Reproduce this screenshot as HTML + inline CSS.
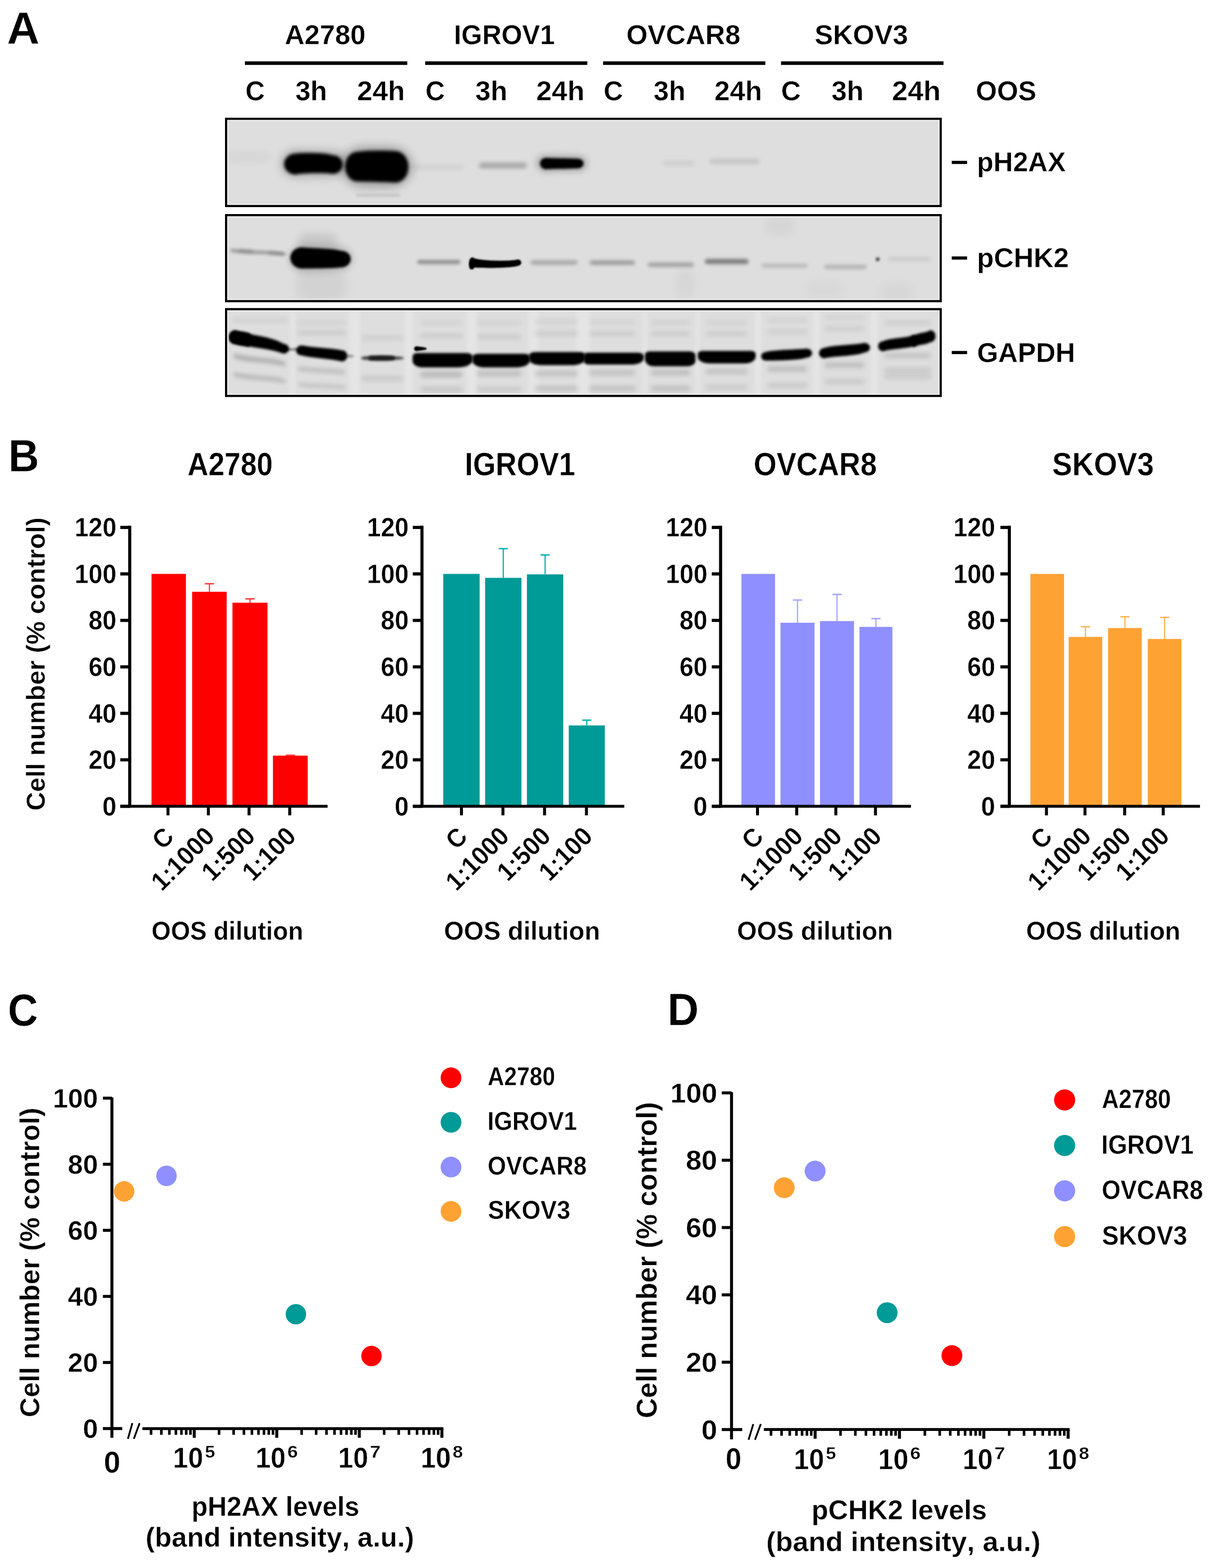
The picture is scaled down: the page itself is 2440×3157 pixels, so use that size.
<!DOCTYPE html>
<html><head><meta charset="utf-8"><title>Figure</title>
<style>
html,body{margin:0;padding:0;background:#fff;}
svg{display:block;}
text{font-family:"Liberation Sans",Arial,sans-serif;font-weight:bold;font-kerning:none;stroke:#fff;stroke-width:0.5px;stroke-linejoin:round;}
</style></head><body>
<svg width="2440" height="3157" viewBox="0 0 2440 3157">
<rect width="2440" height="3157" fill="#fff"/>
<defs>
<filter id="b16" x="-100%" y="-300%" width="300%" height="700%"><feGaussianBlur stdDeviation="1.6"/></filter>
<filter id="b18" x="-100%" y="-300%" width="300%" height="700%"><feGaussianBlur stdDeviation="1.8"/></filter>
<filter id="b20" x="-100%" y="-300%" width="300%" height="700%"><feGaussianBlur stdDeviation="2"/></filter>
<filter id="b22" x="-100%" y="-300%" width="300%" height="700%"><feGaussianBlur stdDeviation="2.2"/></filter>
<filter id="b24" x="-100%" y="-300%" width="300%" height="700%"><feGaussianBlur stdDeviation="2.4"/></filter>
<filter id="b25" x="-100%" y="-300%" width="300%" height="700%"><feGaussianBlur stdDeviation="2.5"/></filter>
<filter id="b26" x="-100%" y="-300%" width="300%" height="700%"><feGaussianBlur stdDeviation="2.6"/></filter>
<filter id="b28" x="-100%" y="-300%" width="300%" height="700%"><feGaussianBlur stdDeviation="2.8"/></filter>
<filter id="b30" x="-100%" y="-300%" width="300%" height="700%"><feGaussianBlur stdDeviation="3"/></filter>
<filter id="b32" x="-100%" y="-300%" width="300%" height="700%"><feGaussianBlur stdDeviation="3.2"/></filter>
<filter id="b35" x="-100%" y="-300%" width="300%" height="700%"><feGaussianBlur stdDeviation="3.5"/></filter>
<filter id="b40" x="-100%" y="-300%" width="300%" height="700%"><feGaussianBlur stdDeviation="4"/></filter>
<filter id="b50" x="-100%" y="-300%" width="300%" height="700%"><feGaussianBlur stdDeviation="5"/></filter>
<filter id="b60" x="-100%" y="-300%" width="300%" height="700%"><feGaussianBlur stdDeviation="6"/></filter>
<filter id="b70" x="-100%" y="-300%" width="300%" height="700%"><feGaussianBlur stdDeviation="7"/></filter>
<filter id="b80" x="-100%" y="-300%" width="300%" height="700%"><feGaussianBlur stdDeviation="8"/></filter>
<filter id="b90" x="-100%" y="-300%" width="300%" height="700%"><feGaussianBlur stdDeviation="9"/></filter>
<filter id="b100" x="-100%" y="-300%" width="300%" height="700%"><feGaussianBlur stdDeviation="10"/></filter>
<clipPath id="clipb1"><rect x="453" y="237" width="1443" height="180"/></clipPath>
<clipPath id="clipb2"><rect x="453" y="431" width="1443" height="177.5"/></clipPath>
<clipPath id="clipb3"><rect x="453" y="620.3" width="1443" height="179.0"/></clipPath>
</defs>
<text x="14.09" y="87.95" font-size="90.71" textLength="65.55" lengthAdjust="spacingAndGlyphs">A</text>
<text x="16.8" y="948.55" font-size="90.71" textLength="62.05" lengthAdjust="spacingAndGlyphs">B</text>
<text x="15.8" y="2064.67" font-size="90.71" textLength="60.75" lengthAdjust="spacingAndGlyphs">C</text>
<text x="1343.48" y="2063.75" font-size="90.71" textLength="63.35" lengthAdjust="spacingAndGlyphs">D</text>
<text x="573.17" y="88.91" font-size="56.21" textLength="162.95" lengthAdjust="spacingAndGlyphs">A2780</text>
<text x="913.85" y="88.91" font-size="56.21" textLength="203.3" lengthAdjust="spacingAndGlyphs">IGROV1</text>
<text x="1260.99" y="88.91" font-size="56.21" textLength="229.55" lengthAdjust="spacingAndGlyphs">OVCAR8</text>
<text x="1639.95" y="88.91" font-size="56.21" textLength="188.31" lengthAdjust="spacingAndGlyphs">SKOV3</text>
<rect x="493" y="123.5" width="327" height="7.2" fill="#000"/>
<rect x="856" y="123.5" width="326.4" height="7.2" fill="#000"/>
<rect x="1214.2" y="123.5" width="326.6" height="7.2" fill="#000"/>
<rect x="1572.4" y="123.5" width="327.1" height="7.2" fill="#000"/>
<text x="494.12" y="201.65" font-size="56.21" textLength="39.21" lengthAdjust="spacingAndGlyphs">C</text>
<text x="594.69" y="201.65" font-size="56.21" textLength="63.85" lengthAdjust="spacingAndGlyphs">3h</text>
<text x="718.81" y="201.65" font-size="56.21" textLength="96.52" lengthAdjust="spacingAndGlyphs">24h</text>
<text x="856.52" y="201.65" font-size="56.21" textLength="39.21" lengthAdjust="spacingAndGlyphs">C</text>
<text x="956.98" y="201.65" font-size="56.21" textLength="64.39" lengthAdjust="spacingAndGlyphs">3h</text>
<text x="1079.49" y="201.65" font-size="56.21" textLength="97.26" lengthAdjust="spacingAndGlyphs">24h</text>
<text x="1215.34" y="201.65" font-size="56.21" textLength="38.99" lengthAdjust="spacingAndGlyphs">C</text>
<text x="1315.78" y="201.65" font-size="56.21" textLength="64.39" lengthAdjust="spacingAndGlyphs">3h</text>
<text x="1438.32" y="201.65" font-size="56.21" textLength="95.99" lengthAdjust="spacingAndGlyphs">24h</text>
<text x="1572.49" y="201.65" font-size="56.21" textLength="39.76" lengthAdjust="spacingAndGlyphs">C</text>
<text x="1673.98" y="201.65" font-size="56.21" textLength="64.71" lengthAdjust="spacingAndGlyphs">3h</text>
<text x="1795.78" y="201.65" font-size="56.21" textLength="98" lengthAdjust="spacingAndGlyphs">24h</text>
<text x="1964.5" y="202.19" font-size="56.21" textLength="121.89" lengthAdjust="spacingAndGlyphs">OOS</text>
<text x="1966.76" y="344.65" font-size="54.71" textLength="178.77" lengthAdjust="spacingAndGlyphs">pH2AX</text>
<rect x="1916" y="323.8" width="31" height="6.4" fill="#000"/>
<text x="1966.69" y="538.25" font-size="54.71" textLength="185.29" lengthAdjust="spacingAndGlyphs">pCHK2</text>
<rect x="1916" y="516.3" width="31" height="6.4" fill="#000"/>
<text x="1966.9" y="728.95" font-size="54.71" textLength="197.74" lengthAdjust="spacingAndGlyphs">GAPDH</text>
<rect x="1916" y="706.6" width="31" height="6.4" fill="#000"/>
<rect x="453" y="237" width="1443" height="180" fill="#dedede"/>
<rect x="453" y="431" width="1443" height="177.5" fill="#dedede"/>
<rect x="453" y="620.3" width="1443" height="179" fill="#dedede"/>
<g clip-path="url(#clipb1)">
<path d="M467.1,305 C478.94,305 521.06,305 532.9,305 A12.1,11 0 0 1 532.9,327 C521.06,327 478.94,327 467.1,327 A12.1,11 0 0 1 467.1,305 Z" fill="#000" opacity="0.035" filter="url(#b80)"/>
<path d="M595.25,302 C608.96,303 657.69,303 671.4,304 A28.6,26 0 0 1 671.4,356 C657.69,356.5 608.96,356.5 595.25,357 A30.25,27.5 0 0 1 595.25,302 Z" fill="#000" opacity="0.22" filter="url(#b90)"/>
<path d="M595.38,308.9 C608.7,306.98 656.05,306.98 669.37,312.4 A20.74,18.85 0 0 1 669.37,350.1 C656.05,347.85 608.7,347.85 595.38,351.6 A23.49,21.35 0 0 1 595.38,308.9 Z" fill="#000" opacity="1.0" filter="url(#b30)"/>
<path d="M732,296 C741.72,296 776.28,296 786,296 A44,40 0 0 1 786,376 C776.28,376 741.72,376 732,376 A44,40 0 0 1 732,296 Z" fill="#000" opacity="0.3" filter="url(#b100)"/>
<path d="M719,305.76 C732.86,302.68 782.14,302.68 796,304.26 A26.24,31.74 0 0 1 796,367.74 C782.14,366.16 732.86,366.16 719,365.24 A24.24,29.74 0 0 1 719,305.76 Z" fill="#000" opacity="1.0" filter="url(#b32)"/>
<path d="M718.75,390.8 C733.96,390.8 788.04,390.8 803.25,390.8 A2.75,2.5 0 0 1 803.25,395.8 C788.04,395.8 733.96,395.8 718.75,395.8 A2.75,2.5 0 0 1 718.75,390.8 Z" fill="#000" opacity="0.12" filter="url(#b25)"/>
<path d="M834.95,332.2 C851.89,332.2 912.11,332.2 929.05,332.2 A4.95,4.5 0 0 1 929.05,341.2 C912.11,341.2 851.89,341.2 834.95,341.2 A4.95,4.5 0 0 1 834.95,332.2 Z" fill="#000" opacity="0.06" filter="url(#b40)"/>
<path d="M970.05,327.7 C985.33,327.7 1039.67,327.7 1054.95,327.7 A6.05,5.5 0 0 1 1054.95,338.7 C1039.67,338.7 985.33,338.7 970.05,338.7 A6.05,5.5 0 0 1 970.05,327.7 Z" fill="#000" opacity="0.26" filter="url(#b40)"/>
<path d="M1098.7,312 C1110.72,313 1153.48,313 1165.5,314 A16.5,15 0 0 1 1165.5,344 C1153.48,345 1110.72,345 1098.7,346 A18.7,17 0 0 1 1098.7,312 Z" fill="#000" opacity="0.25" filter="url(#b70)"/>
<path d="M1099.9,317.75 C1111.49,318.75 1152.71,318.75 1164.3,319.75 A10.45,9.5 0 0 1 1164.3,338.75 C1152.71,339.75 1111.49,339.75 1099.9,340.75 A12.65,11.5 0 0 1 1099.9,317.75 Z" fill="#000" opacity="1.0" filter="url(#b25)"/>
<path d="M1338.95,324.5 C1348.87,324.5 1384.13,324.5 1394.05,324.5 A4.95,4.5 0 0 1 1394.05,333.5 C1384.13,333.5 1348.87,333.5 1338.95,333.5 A4.95,4.5 0 0 1 1338.95,324.5 Z" fill="#000" opacity="0.08" filter="url(#b40)"/>
<path d="M1434.5,320 C1450.52,320 1507.48,320 1523.5,320 A5.5,5 0 0 1 1523.5,330 C1507.48,330 1450.52,330 1434.5,330 A5.5,5 0 0 1 1434.5,320 Z" fill="#000" opacity="0.12" filter="url(#b40)"/>
</g>
<g clip-path="url(#clipb2)">
<path d="M630,540 C636.3,540 658.7,540 665,540 A35,35 0 0 1 665,610 C658.7,610 636.3,610 630,610 A35,35 0 0 1 630,540 Z" fill="#000" opacity="0.05" filter="url(#b100)"/>
<path d="M619.25,470 C626.72,470 653.28,470 660.75,470 A19.25,17.5 0 0 1 660.75,505 C653.28,505 626.72,505 619.25,505 A19.25,17.5 0 0 1 619.25,470 Z" fill="#000" opacity="0.1" filter="url(#b80)"/>
<path d="M614.1,490 C626.38,492 670.02,492 682.3,494 A29.7,27 0 0 1 682.3,548 C670.02,550 626.38,550 614.1,552 A34.1,31 0 0 1 614.1,490 Z" fill="#000" opacity="0.12" filter="url(#b60)"/>
<path d="M468.12,500.5 C486.67,504.25 552.61,504.25 571.15,508 A3.85,3.5 0 0 1 571.15,515 C552.61,511.5 486.67,511.5 468.12,508 A4.12,3.75 0 0 1 468.12,500.5 Z" fill="#000" opacity="0.3" filter="url(#b32)"/>
<path d="M484.95,500 C488.57,501 501.43,501 505.05,502 A4.95,4.5 0 0 1 505.05,511 C501.43,510 488.57,510 484.95,509 A4.95,4.5 0 0 1 484.95,500 Z" fill="#000" opacity="0.12" filter="url(#b30)"/>
<path d="M544.95,505 C549.03,506 563.52,506 567.6,507 A4.4,4 0 0 1 567.6,515 C563.52,514.5 549.03,514.5 544.95,514 A4.95,4.5 0 0 1 544.95,505 Z" fill="#000" opacity="0.12" filter="url(#b30)"/>
<path d="M608.3,497.64 C622.32,499.67 672.18,499.67 686.2,504.64 A19.96,16.96 0 0 1 686.2,538.56 C672.18,540.69 622.32,540.69 608.3,540.96 A23.96,21.66 0 0 1 608.3,497.64 Z" fill="#000" opacity="1.0" filter="url(#b28)"/>
<path d="M844.4,523.4 C858.48,523.4 908.52,523.4 922.6,523.4 A4.4,4 0 0 1 922.6,531.4 C908.52,531.4 858.48,531.4 844.4,531.4 A4.4,4 0 0 1 844.4,523.4 Z" fill="#000" opacity="0.36" filter="url(#b30)"/>
<path d="M951.5,518.04 C960.58,526.27 1033.22,526.27 1042.3,522.24 A7.26,6.51 0 0 1 1042.3,535.26 C1033.22,540.09 960.58,540.09 951.5,538.26 A7.26,10.11 0 0 1 951.5,518.04 Z" fill="#000" opacity="1.0" filter="url(#b18)"/>
<path d="M947.91,526.74 C948.57,526.74 950.93,526.74 951.59,526.74 A3.67,7.76 0 0 1 951.59,542.26 C950.93,542.26 948.57,542.26 947.91,542.26 A3.67,7.76 0 0 1 947.91,526.74 Z" fill="#000" opacity="1.0" filter="url(#b18)"/>
<path d="M1072.95,524 C1088.27,524 1142.73,524 1158.05,524 A4.95,4.5 0 0 1 1158.05,533 C1142.73,533 1088.27,533 1072.95,533 A4.95,4.5 0 0 1 1072.95,524 Z" fill="#000" opacity="0.24" filter="url(#b35)"/>
<path d="M1191.95,524.3 C1206.55,524.3 1258.45,524.3 1273.05,524.3 A4.95,4.5 0 0 1 1273.05,533.3 C1258.45,533.3 1206.55,533.3 1191.95,533.3 A4.95,4.5 0 0 1 1191.95,524.3 Z" fill="#000" opacity="0.3" filter="url(#b35)"/>
<path d="M1308.95,528.5 C1323.91,528.5 1377.09,528.5 1392.05,528.5 A4.95,4.5 0 0 1 1392.05,537.5 C1377.09,537.5 1323.91,537.5 1308.95,537.5 A4.95,4.5 0 0 1 1308.95,528.5 Z" fill="#000" opacity="0.27" filter="url(#b35)"/>
<path d="M1424.5,521.6 C1438.36,521.6 1487.64,521.6 1501.5,521.6 A5.5,5 0 0 1 1501.5,531.6 C1487.64,531.6 1438.36,531.6 1424.5,531.6 A5.5,5 0 0 1 1424.5,521.6 Z" fill="#000" opacity="0.45" filter="url(#b35)"/>
<path d="M1537.4,531 C1552.56,531 1606.44,531 1621.6,531 A4.4,4 0 0 1 1621.6,539 C1606.44,539 1552.56,539 1537.4,539 A4.4,4 0 0 1 1537.4,531 Z" fill="#000" opacity="0.17" filter="url(#b35)"/>
<path d="M1663.4,533.5 C1677.3,533.5 1726.7,533.5 1740.6,533.5 A4.4,4 0 0 1 1740.6,541.5 C1726.7,541.5 1677.3,541.5 1663.4,541.5 A4.4,4 0 0 1 1663.4,533.5 Z" fill="#000" opacity="0.2" filter="url(#b35)"/>
<path d="M1765.67,518 C1766.15,518 1767.85,518 1768.33,518 A2.67,4 0 0 1 1768.33,526 C1767.85,526 1766.15,526 1765.67,526 A2.67,4 0 0 1 1765.67,518 Z" fill="#000" opacity="0.6" filter="url(#b20)"/>
<path d="M1792.4,518 C1806.48,518 1856.52,518 1870.6,518 A4.4,4 0 0 1 1870.6,526 C1856.52,526 1806.48,526 1792.4,526 A4.4,4 0 0 1 1792.4,518 Z" fill="#000" opacity="0.08" filter="url(#b35)"/>
<path d="M1639.25,565 C1646.72,565 1673.28,565 1680.75,565 A19.25,17.5 0 0 1 1680.75,600 C1673.28,600 1646.72,600 1639.25,600 A19.25,17.5 0 0 1 1639.25,565 Z" fill="#000" opacity="0.025" filter="url(#b100)"/>
<path d="M1789.25,570 C1794.92,570 1815.08,570 1820.75,570 A19.25,17.5 0 0 1 1820.75,605 C1815.08,605 1794.92,605 1789.25,605 A19.25,17.5 0 0 1 1789.25,570 Z" fill="#000" opacity="0.03" filter="url(#b100)"/>
<path d="M1373.33,545 C1375.73,545 1384.27,545 1386.67,545 A13.33,27.5 0 0 1 1386.67,600 C1384.27,600 1375.73,600 1373.33,600 A13.33,27.5 0 0 1 1373.33,545 Z" fill="#000" opacity="0.03" filter="url(#b80)"/>
<path d="M1559.8,438 C1563.47,438 1576.53,438 1580.2,438 A19.8,18 0 0 1 1580.2,474 C1576.53,474 1563.47,474 1559.8,474 A19.8,18 0 0 1 1559.8,438 Z" fill="#000" opacity="0.035" filter="url(#b90)"/>
</g>
<g clip-path="url(#clipb3)">
<rect x="584" y="622" width="10" height="176" fill="#ececec" opacity="0.55" filter="url(#b40)"/>
<rect x="703" y="622" width="22" height="176" fill="#ececec" opacity="0.55" filter="url(#b40)"/>
<rect x="815" y="622" width="17" height="176" fill="#ececec" opacity="0.55" filter="url(#b40)"/>
<rect x="940" y="622" width="20" height="176" fill="#ececec" opacity="0.55" filter="url(#b40)"/>
<rect x="1064" y="622" width="20" height="176" fill="#ececec" opacity="0.55" filter="url(#b40)"/>
<rect x="1160" y="622" width="28" height="176" fill="#ececec" opacity="0.55" filter="url(#b40)"/>
<rect x="1294" y="622" width="8" height="176" fill="#ececec" opacity="0.55" filter="url(#b40)"/>
<rect x="1400" y="622" width="8" height="176" fill="#ececec" opacity="0.55" filter="url(#b40)"/>
<rect x="1520" y="622" width="12" height="176" fill="#ececec" opacity="0.55" filter="url(#b40)"/>
<rect x="1637" y="622" width="13" height="176" fill="#ececec" opacity="0.55" filter="url(#b40)"/>
<rect x="1752" y="622" width="16" height="176" fill="#ececec" opacity="0.55" filter="url(#b40)"/>
<path d="M473.5,640 C491.68,640 556.32,640 574.5,640 A5.5,5 0 0 1 574.5,650 C556.32,650 491.68,650 473.5,650 A5.5,5 0 0 1 473.5,640 Z" fill="#000" opacity="0.05600000000000001" filter="url(#b50)"/>
<path d="M603.5,645 C619.34,645 675.66,645 691.5,645 A5.5,5 0 0 1 691.5,655 C675.66,655 619.34,655 603.5,655 A5.5,5 0 0 1 603.5,645 Z" fill="#000" opacity="0.048" filter="url(#b50)"/>
<path d="M603.5,665 C619.34,665 675.66,665 691.5,665 A5.5,5 0 0 1 691.5,675 C675.66,675 619.34,675 603.5,675 A5.5,5 0 0 1 603.5,665 Z" fill="#000" opacity="0.08000000000000002" filter="url(#b50)"/>
<path d="M732.5,675 C745.82,675 793.18,675 806.5,675 A5.5,5 0 0 1 806.5,685 C793.18,685 745.82,685 732.5,685 A5.5,5 0 0 1 732.5,675 Z" fill="#000" opacity="0.064" filter="url(#b50)"/>
<path d="M732.5,757 C745.82,757 793.18,757 806.5,757 A5.5,5 0 0 1 806.5,767 C793.18,767 745.82,767 732.5,767 A5.5,5 0 0 1 732.5,757 Z" fill="#000" opacity="0.096" filter="url(#b50)"/>
<path d="M851.5,645 C864.82,645 912.18,645 925.5,645 A5.5,5 0 0 1 925.5,655 C912.18,655 864.82,655 851.5,655 A5.5,5 0 0 1 851.5,645 Z" fill="#000" opacity="0.048" filter="url(#b50)"/>
<path d="M851.5,671 C864.82,671 912.18,671 925.5,671 A5.5,5 0 0 1 925.5,681 C912.18,681 864.82,681 851.5,681 A5.5,5 0 0 1 851.5,671 Z" fill="#000" opacity="0.08000000000000002" filter="url(#b50)"/>
<path d="M852.05,748.5 C865.17,748.5 911.83,748.5 924.95,748.5 A6.05,5.5 0 0 1 924.95,759.5 C911.83,759.5 865.17,759.5 852.05,759.5 A6.05,5.5 0 0 1 852.05,748.5 Z" fill="#000" opacity="0.17600000000000002" filter="url(#b50)"/>
<path d="M851.5,779 C864.82,779 912.18,779 925.5,779 A5.5,5 0 0 1 925.5,789 C912.18,789 864.82,789 851.5,789 A5.5,5 0 0 1 851.5,779 Z" fill="#000" opacity="0.11200000000000002" filter="url(#b50)"/>
<path d="M965.5,645 C979.72,645 1030.28,645 1044.5,645 A5.5,5 0 0 1 1044.5,655 C1030.28,655 979.72,655 965.5,655 A5.5,5 0 0 1 965.5,645 Z" fill="#000" opacity="0.048" filter="url(#b50)"/>
<path d="M965.5,673 C979.72,673 1030.28,673 1044.5,673 A5.5,5 0 0 1 1044.5,683 C1030.28,683 979.72,683 965.5,683 A5.5,5 0 0 1 965.5,673 Z" fill="#000" opacity="0.08000000000000002" filter="url(#b50)"/>
<path d="M966.05,746.5 C980.07,746.5 1029.93,746.5 1043.95,746.5 A6.05,5.5 0 0 1 1043.95,757.5 C1029.93,757.5 980.07,757.5 966.05,757.5 A6.05,5.5 0 0 1 966.05,746.5 Z" fill="#000" opacity="0.144" filter="url(#b50)"/>
<path d="M965.5,779 C979.72,779 1030.28,779 1044.5,779 A5.5,5 0 0 1 1044.5,789 C1030.28,789 979.72,789 965.5,789 A5.5,5 0 0 1 965.5,779 Z" fill="#000" opacity="0.096" filter="url(#b50)"/>
<path d="M1080.5,643 C1094.72,643 1145.28,643 1159.5,643 A5.5,5 0 0 1 1159.5,653 C1145.28,653 1094.72,653 1080.5,653 A5.5,5 0 0 1 1080.5,643 Z" fill="#000" opacity="0.05600000000000001" filter="url(#b50)"/>
<path d="M1080.5,666 C1094.72,666 1145.28,666 1159.5,666 A5.5,5 0 0 1 1159.5,676 C1145.28,676 1094.72,676 1080.5,676 A5.5,5 0 0 1 1080.5,666 Z" fill="#000" opacity="0.08000000000000002" filter="url(#b50)"/>
<path d="M1081.05,746.5 C1095.07,746.5 1144.93,746.5 1158.95,746.5 A6.05,5.5 0 0 1 1158.95,757.5 C1144.93,757.5 1095.07,757.5 1081.05,757.5 A6.05,5.5 0 0 1 1081.05,746.5 Z" fill="#000" opacity="0.128" filter="url(#b50)"/>
<path d="M1080.5,777 C1094.72,777 1145.28,777 1159.5,777 A5.5,5 0 0 1 1159.5,787 C1145.28,787 1094.72,787 1080.5,787 A5.5,5 0 0 1 1080.5,777 Z" fill="#000" opacity="0.128" filter="url(#b50)"/>
<path d="M1190.5,643 C1205.62,643 1259.38,643 1274.5,643 A5.5,5 0 0 1 1274.5,653 C1259.38,653 1205.62,653 1190.5,653 A5.5,5 0 0 1 1190.5,643 Z" fill="#000" opacity="0.048" filter="url(#b50)"/>
<path d="M1190.5,667 C1205.62,667 1259.38,667 1274.5,667 A5.5,5 0 0 1 1274.5,677 C1259.38,677 1205.62,677 1190.5,677 A5.5,5 0 0 1 1190.5,667 Z" fill="#000" opacity="0.08000000000000002" filter="url(#b50)"/>
<path d="M1191.05,744.5 C1205.97,744.5 1259.03,744.5 1273.95,744.5 A6.05,5.5 0 0 1 1273.95,755.5 C1259.03,755.5 1205.97,755.5 1191.05,755.5 A6.05,5.5 0 0 1 1191.05,744.5 Z" fill="#000" opacity="0.128" filter="url(#b50)"/>
<path d="M1190.5,777 C1205.62,777 1259.38,777 1274.5,777 A5.5,5 0 0 1 1274.5,787 C1259.38,787 1205.62,787 1190.5,787 A5.5,5 0 0 1 1190.5,777 Z" fill="#000" opacity="0.128" filter="url(#b50)"/>
<path d="M1315.5,645 C1327.92,645 1372.08,645 1384.5,645 A5.5,5 0 0 1 1384.5,655 C1372.08,655 1327.92,655 1315.5,655 A5.5,5 0 0 1 1315.5,645 Z" fill="#000" opacity="0.05600000000000001" filter="url(#b50)"/>
<path d="M1315.5,667 C1327.92,667 1372.08,667 1384.5,667 A5.5,5 0 0 1 1384.5,677 C1372.08,677 1327.92,677 1315.5,677 A5.5,5 0 0 1 1315.5,667 Z" fill="#000" opacity="0.08000000000000002" filter="url(#b50)"/>
<path d="M1316.05,744.5 C1328.27,744.5 1371.73,744.5 1383.95,744.5 A6.05,5.5 0 0 1 1383.95,755.5 C1371.73,755.5 1328.27,755.5 1316.05,755.5 A6.05,5.5 0 0 1 1316.05,744.5 Z" fill="#000" opacity="0.144" filter="url(#b50)"/>
<path d="M1315.5,777 C1327.92,777 1372.08,777 1384.5,777 A5.5,5 0 0 1 1384.5,787 C1372.08,787 1327.92,787 1315.5,787 A5.5,5 0 0 1 1315.5,777 Z" fill="#000" opacity="0.144" filter="url(#b50)"/>
<path d="M1425.5,645 C1438.82,645 1486.18,645 1499.5,645 A5.5,5 0 0 1 1499.5,655 C1486.18,655 1438.82,655 1425.5,655 A5.5,5 0 0 1 1425.5,645 Z" fill="#000" opacity="0.048" filter="url(#b50)"/>
<path d="M1425.5,667 C1438.82,667 1486.18,667 1499.5,667 A5.5,5 0 0 1 1499.5,677 C1486.18,677 1438.82,677 1425.5,677 A5.5,5 0 0 1 1425.5,667 Z" fill="#000" opacity="0.08000000000000002" filter="url(#b50)"/>
<path d="M1426.05,742.5 C1439.17,742.5 1485.83,742.5 1498.95,742.5 A6.05,5.5 0 0 1 1498.95,753.5 C1485.83,753.5 1439.17,753.5 1426.05,753.5 A6.05,5.5 0 0 1 1426.05,742.5 Z" fill="#000" opacity="0.12" filter="url(#b50)"/>
<path d="M1425.5,775 C1438.82,775 1486.18,775 1499.5,775 A5.5,5 0 0 1 1499.5,785 C1486.18,785 1438.82,785 1425.5,785 A5.5,5 0 0 1 1425.5,775 Z" fill="#000" opacity="0.096" filter="url(#b50)"/>
<path d="M1550.5,640 C1562.92,640 1607.08,640 1619.5,640 A5.5,5 0 0 1 1619.5,650 C1607.08,650 1562.92,650 1550.5,650 A5.5,5 0 0 1 1550.5,640 Z" fill="#000" opacity="0.048" filter="url(#b50)"/>
<path d="M1550.5,663 C1562.92,663 1607.08,663 1619.5,663 A5.5,5 0 0 1 1619.5,673 C1607.08,673 1562.92,673 1550.5,673 A5.5,5 0 0 1 1550.5,663 Z" fill="#000" opacity="0.064" filter="url(#b50)"/>
<path d="M1551.05,737.5 C1563.27,737.5 1606.73,737.5 1618.95,737.5 A6.05,5.5 0 0 1 1618.95,748.5 C1606.73,748.5 1563.27,748.5 1551.05,748.5 A6.05,5.5 0 0 1 1551.05,737.5 Z" fill="#000" opacity="0.144" filter="url(#b50)"/>
<path d="M1550.5,771 C1562.92,771 1607.08,771 1619.5,771 A5.5,5 0 0 1 1619.5,781 C1607.08,781 1562.92,781 1550.5,781 A5.5,5 0 0 1 1550.5,771 Z" fill="#000" opacity="0.096" filter="url(#b50)"/>
<path d="M1665.5,635 C1677.92,635 1722.08,635 1734.5,635 A5.5,5 0 0 1 1734.5,645 C1722.08,645 1677.92,645 1665.5,645 A5.5,5 0 0 1 1665.5,635 Z" fill="#000" opacity="0.048" filter="url(#b50)"/>
<path d="M1665.5,657 C1677.92,657 1722.08,657 1734.5,657 A5.5,5 0 0 1 1734.5,667 C1722.08,667 1677.92,667 1665.5,667 A5.5,5 0 0 1 1665.5,657 Z" fill="#000" opacity="0.072" filter="url(#b50)"/>
<path d="M1666.05,729.5 C1678.27,729.5 1721.73,729.5 1733.95,729.5 A6.05,5.5 0 0 1 1733.95,740.5 C1721.73,740.5 1678.27,740.5 1666.05,740.5 A6.05,5.5 0 0 1 1666.05,729.5 Z" fill="#000" opacity="0.144" filter="url(#b50)"/>
<path d="M1665.5,763 C1677.92,763 1722.08,763 1734.5,763 A5.5,5 0 0 1 1734.5,773 C1722.08,773 1677.92,773 1665.5,773 A5.5,5 0 0 1 1665.5,763 Z" fill="#000" opacity="0.096" filter="url(#b50)"/>
<path d="M1785.5,645 C1800.62,645 1854.38,645 1869.5,645 A5.5,5 0 0 1 1869.5,655 C1854.38,655 1800.62,655 1785.5,655 A5.5,5 0 0 1 1785.5,645 Z" fill="#000" opacity="0.064" filter="url(#b50)"/>
<path d="M1786.05,710.5 C1800.97,710.5 1854.03,710.5 1868.95,710.5 A6.05,5.5 0 0 1 1868.95,721.5 C1854.03,721.5 1800.97,721.5 1786.05,721.5 A6.05,5.5 0 0 1 1786.05,710.5 Z" fill="#000" opacity="0.11200000000000002" filter="url(#b50)"/>
<path d="M1786.05,739.5 C1800.97,739.5 1854.03,739.5 1868.95,739.5 A6.05,5.5 0 0 1 1868.95,750.5 C1854.03,750.5 1800.97,750.5 1786.05,750.5 A6.05,5.5 0 0 1 1786.05,739.5 Z" fill="#000" opacity="0.096" filter="url(#b50)"/>
<path d="M1785.5,753 C1800.62,753 1854.38,753 1869.5,753 A5.5,5 0 0 1 1869.5,763 C1854.38,763 1800.62,763 1785.5,763 A5.5,5 0 0 1 1785.5,753 Z" fill="#000" opacity="0.096" filter="url(#b50)"/>
<path d="M475.5,712 C492.52,720 553.03,720 570.05,728 A4.95,4.5 0 0 1 570.05,737 C553.03,729.5 492.52,729.5 475.5,722 A5.5,5 0 0 1 475.5,712 Z" fill="#000" opacity="0.22" filter="url(#b40)"/>
<path d="M474.95,750 C492.17,756.5 553.38,756.5 570.6,763 A4.4,4 0 0 1 570.6,771 C553.38,765 492.17,765 474.95,759 A4.95,4.5 0 0 1 474.95,750 Z" fill="#000" opacity="0.18" filter="url(#b40)"/>
<path d="M604.95,738 C620.27,741.5 674.73,741.5 690.05,745 A4.95,4.5 0 0 1 690.05,754 C674.73,750.5 620.27,750.5 604.95,747 A4.95,4.5 0 0 1 604.95,738 Z" fill="#000" opacity="0.14" filter="url(#b40)"/>
<path d="M604.4,770 C619.92,773 675.08,773 690.6,776 A4.4,4 0 0 1 690.6,784 C675.08,781 619.92,781 604.4,778 A4.4,4 0 0 1 604.4,770 Z" fill="#000" opacity="0.12" filter="url(#b40)"/>
<path d="M474,666.18 C503.1,675.18 541.9,675.18 571,692.18 A10.82,10.07 0 0 1 571,712.32 C541.9,700.4 503.1,700.4 474,691.82 A12.82,12.82 0 0 1 474,666.18 Z" fill="#000" opacity="1.0" filter="url(#b26)"/>
<path d="M474,665.18 C478.5,667.68 494.5,667.68 499,670.18 A7.82,13.82 0 0 1 499,697.82 C494.5,695.32 478.5,695.32 474,692.82 A12.82,13.82 0 0 1 474,665.18 Z" fill="#000" opacity="1.0" filter="url(#b26)"/>
<path d="M577.2,701.5 C580.91,701.5 594.09,701.5 597.8,701.5 A2.2,2 0 0 1 597.8,705.5 C594.09,705.5 580.91,705.5 577.2,705.5 A2.2,2 0 0 1 577.2,701.5 Z" fill="#000" opacity="0.5" filter="url(#b20)"/>
<path d="M607.9,695.18 C631.99,700.18 664.11,700.18 688.2,705.18 A10.82,11.32 0 0 1 688.2,727.82 C664.11,721.82 631.99,721.82 607.9,715.82 A11.82,10.32 0 0 1 607.9,695.18 Z" fill="#000" opacity="1.0" filter="url(#b26)"/>
<path d="M697.2,715 C699.47,715 707.53,715 709.8,715 A2.2,2 0 0 1 709.8,719 C707.53,719 699.47,719 697.2,719 A2.2,2 0 0 1 697.2,715 Z" fill="#000" opacity="0.45" filter="url(#b25)"/>
<path d="M741,717.2 C751.04,715.12 786.76,715.12 796.8,717.7 A16.3,3.3 0 0 1 796.8,724.3 C786.76,726.88 751.04,726.88 741,724.8 A14.3,3.8 0 0 1 741,717.2 Z" fill="#000" opacity="0.7" filter="url(#b26)"/>
<path d="M746.98,716.2 C754.83,716.45 782.72,716.45 790.57,716.7 A4.73,4.3 0 0 1 790.57,725.3 C782.72,725.55 754.83,725.55 746.98,725.8 A5.28,4.8 0 0 1 746.98,716.2 Z" fill="#000" opacity="0.6" filter="url(#b22)"/>
<path d="M840.3,710.82 L940,710.82 A11.68,7.68 0 0 1 951.68,718.5 L951.68,725 A29.68,14.68 0 0 1 922,739.68 L850.3,739.68 A19.68,12.68 0 0 1 830.62,727 L830.62,717.5 A9.68,6.68 0 0 1 840.3,710.82 Z" fill="#000" opacity="1.0" filter="url(#b24)"/>
<path d="M839.6,696.88 C842.14,698.13 851.16,698.13 853.7,699.38 A5.12,2.62 0 0 1 853.7,704.62 C851.16,705.87 842.14,705.87 839.6,707.12 A6.12,5.12 0 0 1 839.6,696.88 Z" fill="#000" opacity="1.0" filter="url(#b16)"/>
<path d="M962.5,712.32 L1055.7,712.32 A11.68,6.68 0 0 1 1067.38,719 L1067.38,725 A26.68,14.68 0 0 1 1040.7,739.68 L974.5,739.68 A23.68,13.68 0 0 1 950.82,726 L950.82,719 A11.68,6.68 0 0 1 962.5,712.32 Z" fill="#000" opacity="1.0" filter="url(#b24)"/>
<path d="M1076.8,708.72 L1168.6,708.72 A9.68,6.68 0 0 1 1178.28,715.4 L1178.28,722.5 A25.68,12.68 0 0 1 1152.6,735.18 L1088.8,735.18 A23.68,11.68 0 0 1 1065.12,723.5 L1065.12,715.4 A11.68,6.68 0 0 1 1076.8,708.72 Z" fill="#000" opacity="1.0" filter="url(#b24)"/>
<path d="M1182.6,709.92 L1284.3,709.92 A11.68,6.68 0 0 1 1295.98,716.6 L1295.98,721.4 A23.68,12.68 0 0 1 1272.3,734.08 L1184.6,734.08 A9.68,7.68 0 0 1 1174.92,726.4 L1174.92,716.6 A7.68,6.68 0 0 1 1182.6,709.92 Z" fill="#000" opacity="1.0" filter="url(#b24)"/>
<path d="M1308,707.62 L1388.3,707.62 A11.68,7.68 0 0 1 1399.98,715.3 L1399.98,726.8 A15.68,10.68 0 0 1 1384.3,737.48 L1316,737.48 A17.68,14.68 0 0 1 1298.32,722.8 L1298.32,714.3 A9.68,6.68 0 0 1 1308,707.62 Z" fill="#000" opacity="1.0" filter="url(#b24)"/>
<path d="M1414.4,706.52 L1511.6,706.52 A9.68,5.68 0 0 1 1521.28,712.2 L1521.28,718 A21.68,13.68 0 0 1 1499.6,731.68 L1428.4,731.68 A23.68,12.68 0 0 1 1404.72,719 L1404.72,712.2 A9.68,5.68 0 0 1 1414.4,706.52 Z" fill="#000" opacity="1.0" filter="url(#b24)"/>
<path d="M1541.9,708.72 C1556.53,704 1608.57,704 1623.2,701.82 A11.68,9.18 0 0 1 1623.2,720.18 C1608.57,725.88 1556.53,725.88 1541.9,725.98 A9.68,8.63 0 0 1 1541.9,708.72 Z" fill="#000" opacity="1.0" filter="url(#b24)"/>
<path d="M1659.5,700.62 C1673.97,694.6 1725.43,694.6 1739.9,690.32 A11.68,9.68 0 0 1 1739.9,709.68 C1725.43,717.06 1673.97,717.06 1659.5,721.38 A10.68,10.38 0 0 1 1659.5,700.62 Z" fill="#000" opacity="1.0" filter="url(#b24)"/>
<path d="M1778.5,686.82 C1789.39,680.57 1828.11,680.57 1839,674.32 A7.68,11.18 0 0 1 1839,696.68 C1828.11,702.08 1789.39,702.08 1778.5,707.48 A10.68,10.33 0 0 1 1778.5,686.82 Z" fill="#000" opacity="1.0" filter="url(#b24)"/>
<path d="M1841,675.32 C1846.69,670.07 1866.91,670.07 1872.6,664.82 A10.68,12.08 0 0 1 1872.6,688.98 C1866.91,693.83 1846.69,693.83 1841,698.68 A7.68,11.68 0 0 1 1841,675.32 Z" fill="#000" opacity="1.0" filter="url(#b24)"/>
</g>
<rect x="455.15" y="239.15" width="1438.7" height="175.7" fill="none" stroke="#000" stroke-width="4.3"/>
<rect x="459" y="243" width="1431" height="168" fill="none" stroke="#eeeeee" stroke-width="2"/>
<rect x="455.15" y="433.15" width="1438.7" height="173.2" fill="none" stroke="#000" stroke-width="4.3"/>
<rect x="459" y="437" width="1431" height="165.5" fill="none" stroke="#eeeeee" stroke-width="2"/>
<rect x="455.15" y="622.45" width="1438.7" height="174.7" fill="none" stroke="#000" stroke-width="4.3"/>
<rect x="459" y="626.3" width="1431" height="167" fill="none" stroke="#eeeeee" stroke-width="2"/>
<rect x="305" y="1155.5" width="69.3" height="467.9" fill="#ff0000"/>
<rect x="386.8" y="1191.53" width="69.6" height="431.87" fill="#ff0000"/>
<line x1="421.6" y1="1191.53" x2="421.6" y2="1174.22" stroke="#ff3a3a" stroke-width="2.4" stroke-linecap="butt"/>
<rect x="412.35" y="1173.92" width="18.5" height="2.8" fill="#ff3a3a"/>
<rect x="468" y="1213.52" width="70.5" height="409.88" fill="#ff0000"/>
<line x1="503.25" y1="1213.52" x2="503.25" y2="1204.63" stroke="#ff3a3a" stroke-width="2.4" stroke-linecap="butt"/>
<rect x="494" y="1204.33" width="18.5" height="2.8" fill="#ff3a3a"/>
<rect x="549.5" y="1521.4" width="70" height="102" fill="#ff0000"/>
<line x1="584.5" y1="1521.4" x2="584.5" y2="1519.53" stroke="#ff3a3a" stroke-width="2.4" stroke-linecap="butt"/>
<rect x="575.25" y="1519.23" width="18.5" height="2.8" fill="#ff3a3a"/>
<line x1="261.2" y1="1058.6" x2="261.2" y2="1626.2" stroke="#000" stroke-width="6.2" stroke-linecap="butt"/>
<line x1="242.2" y1="1623.4" x2="261.2" y2="1623.4" stroke="#000" stroke-width="6.4" stroke-linecap="butt"/>
<text x="206.02" y="1641.79" font-size="53.41" textLength="28.43" lengthAdjust="spacingAndGlyphs">0</text>
<line x1="242.2" y1="1529.82" x2="261.2" y2="1529.82" stroke="#000" stroke-width="6.4" stroke-linecap="butt"/>
<text x="178.2" y="1548.21" font-size="53.41" textLength="56.22" lengthAdjust="spacingAndGlyphs">20</text>
<line x1="242.2" y1="1436.24" x2="261.2" y2="1436.24" stroke="#000" stroke-width="6.4" stroke-linecap="butt"/>
<text x="178.21" y="1454.63" font-size="53.41" textLength="56.21" lengthAdjust="spacingAndGlyphs">40</text>
<line x1="242.2" y1="1342.66" x2="261.2" y2="1342.66" stroke="#000" stroke-width="6.4" stroke-linecap="butt"/>
<text x="178.2" y="1361.05" font-size="53.41" textLength="56.23" lengthAdjust="spacingAndGlyphs">60</text>
<line x1="242.2" y1="1249.08" x2="261.2" y2="1249.08" stroke="#000" stroke-width="6.4" stroke-linecap="butt"/>
<text x="178.2" y="1267.47" font-size="53.41" textLength="56.22" lengthAdjust="spacingAndGlyphs">80</text>
<line x1="242.2" y1="1155.5" x2="261.2" y2="1155.5" stroke="#000" stroke-width="6.4" stroke-linecap="butt"/>
<text x="150.35" y="1173.89" font-size="53.41" textLength="84.06" lengthAdjust="spacingAndGlyphs">100</text>
<line x1="242.2" y1="1061.92" x2="261.2" y2="1061.92" stroke="#000" stroke-width="6.4" stroke-linecap="butt"/>
<text x="150.35" y="1080.31" font-size="53.41" textLength="84.06" lengthAdjust="spacingAndGlyphs">120</text>
<line x1="242.2" y1="1623.4" x2="659.5" y2="1623.4" stroke="#000" stroke-width="5.6" stroke-linecap="butt"/>
<line x1="338.2" y1="1623" x2="338.2" y2="1641.6" stroke="#000" stroke-width="6" stroke-linecap="butt"/>
<line x1="419.5" y1="1623" x2="419.5" y2="1641.6" stroke="#000" stroke-width="6" stroke-linecap="butt"/>
<line x1="501.4" y1="1623" x2="501.4" y2="1641.6" stroke="#000" stroke-width="6" stroke-linecap="butt"/>
<line x1="583.3" y1="1623" x2="583.3" y2="1641.6" stroke="#000" stroke-width="6" stroke-linecap="butt"/>
<text transform="translate(352.2,1688.3) rotate(-45)" x="-34.46" y="0" font-size="52.21" textLength="35.82" lengthAdjust="spacingAndGlyphs">C</text>
<text transform="translate(433.5,1688.3) rotate(-45)" x="-152.4" y="0" font-size="52.21" textLength="154.43" lengthAdjust="spacingAndGlyphs">1:1000</text>
<text transform="translate(515.4,1688.3) rotate(-45)" x="-124.81" y="0" font-size="52.21" textLength="126.85" lengthAdjust="spacingAndGlyphs">1:500</text>
<text transform="translate(597.3,1688.3) rotate(-45)" x="-124.81" y="0" font-size="52.21" textLength="126.85" lengthAdjust="spacingAndGlyphs">1:100</text>
<text x="377.6" y="956.55" font-size="64.11" textLength="171.64" lengthAdjust="spacingAndGlyphs">A2780</text>
<text x="305" y="1891.75" font-size="51.71" textLength="305.55" lengthAdjust="spacingAndGlyphs">OOS dilution</text>
<rect x="892.3" y="1155.5" width="73.3" height="467.9" fill="#009a97"/>
<rect x="976.6" y="1163.45" width="73.2" height="459.95" fill="#009a97"/>
<line x1="1013.2" y1="1163.45" x2="1013.2" y2="1103.56" stroke="#00b2b2" stroke-width="2.4" stroke-linecap="butt"/>
<rect x="1003.95" y="1103.26" width="18.5" height="2.8" fill="#00b2b2"/>
<rect x="1060.8" y="1156.44" width="73.2" height="466.96" fill="#009a97"/>
<line x1="1097.4" y1="1156.44" x2="1097.4" y2="1116.2" stroke="#00b2b2" stroke-width="2.4" stroke-linecap="butt"/>
<rect x="1088.15" y="1115.9" width="18.5" height="2.8" fill="#00b2b2"/>
<rect x="1145" y="1460.57" width="72.6" height="162.83" fill="#009a97"/>
<line x1="1181.3" y1="1460.57" x2="1181.3" y2="1448.87" stroke="#00b2b2" stroke-width="2.4" stroke-linecap="butt"/>
<rect x="1172.05" y="1448.57" width="18.5" height="2.8" fill="#00b2b2"/>
<line x1="849.5" y1="1058.6" x2="849.5" y2="1626.2" stroke="#000" stroke-width="6.2" stroke-linecap="butt"/>
<line x1="831" y1="1623.4" x2="849.5" y2="1623.4" stroke="#000" stroke-width="6.4" stroke-linecap="butt"/>
<text x="794.42" y="1641.79" font-size="53.41" textLength="28.43" lengthAdjust="spacingAndGlyphs">0</text>
<line x1="831" y1="1529.82" x2="849.5" y2="1529.82" stroke="#000" stroke-width="6.4" stroke-linecap="butt"/>
<text x="766.6" y="1548.21" font-size="53.41" textLength="56.22" lengthAdjust="spacingAndGlyphs">20</text>
<line x1="831" y1="1436.24" x2="849.5" y2="1436.24" stroke="#000" stroke-width="6.4" stroke-linecap="butt"/>
<text x="766.61" y="1454.63" font-size="53.41" textLength="56.21" lengthAdjust="spacingAndGlyphs">40</text>
<line x1="831" y1="1342.66" x2="849.5" y2="1342.66" stroke="#000" stroke-width="6.4" stroke-linecap="butt"/>
<text x="766.6" y="1361.05" font-size="53.41" textLength="56.23" lengthAdjust="spacingAndGlyphs">60</text>
<line x1="831" y1="1249.08" x2="849.5" y2="1249.08" stroke="#000" stroke-width="6.4" stroke-linecap="butt"/>
<text x="766.6" y="1267.47" font-size="53.41" textLength="56.22" lengthAdjust="spacingAndGlyphs">80</text>
<line x1="831" y1="1155.5" x2="849.5" y2="1155.5" stroke="#000" stroke-width="6.4" stroke-linecap="butt"/>
<text x="738.75" y="1173.89" font-size="53.41" textLength="84.06" lengthAdjust="spacingAndGlyphs">100</text>
<line x1="831" y1="1061.92" x2="849.5" y2="1061.92" stroke="#000" stroke-width="6.4" stroke-linecap="butt"/>
<text x="738.75" y="1080.31" font-size="53.41" textLength="84.06" lengthAdjust="spacingAndGlyphs">120</text>
<line x1="831" y1="1623.4" x2="1256.8" y2="1623.4" stroke="#000" stroke-width="5.6" stroke-linecap="butt"/>
<line x1="929" y1="1623" x2="929" y2="1641.6" stroke="#000" stroke-width="6" stroke-linecap="butt"/>
<line x1="1012.5" y1="1623" x2="1012.5" y2="1641.6" stroke="#000" stroke-width="6" stroke-linecap="butt"/>
<line x1="1096.3" y1="1623" x2="1096.3" y2="1641.6" stroke="#000" stroke-width="6" stroke-linecap="butt"/>
<line x1="1180.6" y1="1623" x2="1180.6" y2="1641.6" stroke="#000" stroke-width="6" stroke-linecap="butt"/>
<text transform="translate(943,1688.3) rotate(-45)" x="-34.46" y="0" font-size="52.21" textLength="35.82" lengthAdjust="spacingAndGlyphs">C</text>
<text transform="translate(1026.5,1688.3) rotate(-45)" x="-152.4" y="0" font-size="52.21" textLength="154.43" lengthAdjust="spacingAndGlyphs">1:1000</text>
<text transform="translate(1110.3,1688.3) rotate(-45)" x="-124.81" y="0" font-size="52.21" textLength="126.85" lengthAdjust="spacingAndGlyphs">1:500</text>
<text transform="translate(1194.6,1688.3) rotate(-45)" x="-124.81" y="0" font-size="52.21" textLength="126.85" lengthAdjust="spacingAndGlyphs">1:100</text>
<text x="935.82" y="956.55" font-size="64.11" textLength="222.07" lengthAdjust="spacingAndGlyphs">IGROV1</text>
<text x="893.64" y="1891.75" font-size="51.71" textLength="314.5" lengthAdjust="spacingAndGlyphs">OOS dilution</text>
<rect x="1492.6" y="1155.5" width="67.7" height="467.9" fill="#8f8fff"/>
<rect x="1571.3" y="1253.76" width="68.5" height="369.64" fill="#8f8fff"/>
<line x1="1605.55" y1="1253.76" x2="1605.55" y2="1206.97" stroke="#a3a3ff" stroke-width="2.4" stroke-linecap="butt"/>
<rect x="1596.3" y="1206.67" width="18.5" height="2.8" fill="#a3a3ff"/>
<rect x="1650.8" y="1250.48" width="68.5" height="372.92" fill="#8f8fff"/>
<line x1="1685.05" y1="1250.48" x2="1685.05" y2="1195.74" stroke="#a3a3ff" stroke-width="2.4" stroke-linecap="butt"/>
<rect x="1675.8" y="1195.44" width="18.5" height="2.8" fill="#a3a3ff"/>
<rect x="1730.3" y="1262.18" width="66.3" height="361.22" fill="#8f8fff"/>
<line x1="1763.45" y1="1262.18" x2="1763.45" y2="1244.4" stroke="#a3a3ff" stroke-width="2.4" stroke-linecap="butt"/>
<rect x="1754.2" y="1244.1" width="18.5" height="2.8" fill="#a3a3ff"/>
<line x1="1450.7" y1="1058.6" x2="1450.7" y2="1626.2" stroke="#000" stroke-width="6.2" stroke-linecap="butt"/>
<line x1="1432.9" y1="1623.4" x2="1450.7" y2="1623.4" stroke="#000" stroke-width="6.4" stroke-linecap="butt"/>
<text x="1395.82" y="1641.79" font-size="53.41" textLength="28.43" lengthAdjust="spacingAndGlyphs">0</text>
<line x1="1432.9" y1="1529.82" x2="1450.7" y2="1529.82" stroke="#000" stroke-width="6.4" stroke-linecap="butt"/>
<text x="1368" y="1548.21" font-size="53.41" textLength="56.22" lengthAdjust="spacingAndGlyphs">20</text>
<line x1="1432.9" y1="1436.24" x2="1450.7" y2="1436.24" stroke="#000" stroke-width="6.4" stroke-linecap="butt"/>
<text x="1368.01" y="1454.63" font-size="53.41" textLength="56.21" lengthAdjust="spacingAndGlyphs">40</text>
<line x1="1432.9" y1="1342.66" x2="1450.7" y2="1342.66" stroke="#000" stroke-width="6.4" stroke-linecap="butt"/>
<text x="1368" y="1361.05" font-size="53.41" textLength="56.23" lengthAdjust="spacingAndGlyphs">60</text>
<line x1="1432.9" y1="1249.08" x2="1450.7" y2="1249.08" stroke="#000" stroke-width="6.4" stroke-linecap="butt"/>
<text x="1368" y="1267.47" font-size="53.41" textLength="56.22" lengthAdjust="spacingAndGlyphs">80</text>
<line x1="1432.9" y1="1155.5" x2="1450.7" y2="1155.5" stroke="#000" stroke-width="6.4" stroke-linecap="butt"/>
<text x="1340.15" y="1173.89" font-size="53.41" textLength="84.06" lengthAdjust="spacingAndGlyphs">100</text>
<line x1="1432.9" y1="1061.92" x2="1450.7" y2="1061.92" stroke="#000" stroke-width="6.4" stroke-linecap="butt"/>
<text x="1340.15" y="1080.31" font-size="53.41" textLength="84.06" lengthAdjust="spacingAndGlyphs">120</text>
<line x1="1432.9" y1="1623.4" x2="1834" y2="1623.4" stroke="#000" stroke-width="5.6" stroke-linecap="butt"/>
<line x1="1525" y1="1623" x2="1525" y2="1641.6" stroke="#000" stroke-width="6" stroke-linecap="butt"/>
<line x1="1604" y1="1623" x2="1604" y2="1641.6" stroke="#000" stroke-width="6" stroke-linecap="butt"/>
<line x1="1682.7" y1="1623" x2="1682.7" y2="1641.6" stroke="#000" stroke-width="6" stroke-linecap="butt"/>
<line x1="1762.5" y1="1623" x2="1762.5" y2="1641.6" stroke="#000" stroke-width="6" stroke-linecap="butt"/>
<text transform="translate(1539,1688.3) rotate(-45)" x="-34.46" y="0" font-size="52.21" textLength="35.82" lengthAdjust="spacingAndGlyphs">C</text>
<text transform="translate(1618,1688.3) rotate(-45)" x="-152.4" y="0" font-size="52.21" textLength="154.43" lengthAdjust="spacingAndGlyphs">1:1000</text>
<text transform="translate(1696.7,1688.3) rotate(-45)" x="-124.81" y="0" font-size="52.21" textLength="126.85" lengthAdjust="spacingAndGlyphs">1:500</text>
<text transform="translate(1776.5,1688.3) rotate(-45)" x="-124.81" y="0" font-size="52.21" textLength="126.85" lengthAdjust="spacingAndGlyphs">1:100</text>
<text x="1517.31" y="956.55" font-size="64.11" textLength="248.07" lengthAdjust="spacingAndGlyphs">OVCAR8</text>
<text x="1483.84" y="1891.75" font-size="51.71" textLength="313.89" lengthAdjust="spacingAndGlyphs">OOS dilution</text>
<rect x="2074.4" y="1155.5" width="67.8" height="467.9" fill="#ffa234"/>
<rect x="2151.4" y="1282.3" width="67.7" height="341.1" fill="#ffa234"/>
<line x1="2185.25" y1="1282.3" x2="2185.25" y2="1260.78" stroke="#ffb250" stroke-width="2.4" stroke-linecap="butt"/>
<rect x="2176" y="1260.48" width="18.5" height="2.8" fill="#ffb250"/>
<rect x="2230.8" y="1264.52" width="67.8" height="358.88" fill="#ffa234"/>
<line x1="2264.7" y1="1264.52" x2="2264.7" y2="1240.66" stroke="#ffb250" stroke-width="2.4" stroke-linecap="butt"/>
<rect x="2255.45" y="1240.36" width="18.5" height="2.8" fill="#ffb250"/>
<rect x="2310.7" y="1286.51" width="67.8" height="336.89" fill="#ffa234"/>
<line x1="2344.6" y1="1286.51" x2="2344.6" y2="1242.06" stroke="#ffb250" stroke-width="2.4" stroke-linecap="butt"/>
<rect x="2335.35" y="1241.76" width="18.5" height="2.8" fill="#ffb250"/>
<line x1="2032" y1="1058.6" x2="2032" y2="1626.2" stroke="#000" stroke-width="6.2" stroke-linecap="butt"/>
<line x1="2014" y1="1623.4" x2="2032" y2="1623.4" stroke="#000" stroke-width="6.4" stroke-linecap="butt"/>
<text x="1975.12" y="1641.79" font-size="53.41" textLength="28.43" lengthAdjust="spacingAndGlyphs">0</text>
<line x1="2014" y1="1529.82" x2="2032" y2="1529.82" stroke="#000" stroke-width="6.4" stroke-linecap="butt"/>
<text x="1947.3" y="1548.21" font-size="53.41" textLength="56.22" lengthAdjust="spacingAndGlyphs">20</text>
<line x1="2014" y1="1436.24" x2="2032" y2="1436.24" stroke="#000" stroke-width="6.4" stroke-linecap="butt"/>
<text x="1947.31" y="1454.63" font-size="53.41" textLength="56.21" lengthAdjust="spacingAndGlyphs">40</text>
<line x1="2014" y1="1342.66" x2="2032" y2="1342.66" stroke="#000" stroke-width="6.4" stroke-linecap="butt"/>
<text x="1947.3" y="1361.05" font-size="53.41" textLength="56.23" lengthAdjust="spacingAndGlyphs">60</text>
<line x1="2014" y1="1249.08" x2="2032" y2="1249.08" stroke="#000" stroke-width="6.4" stroke-linecap="butt"/>
<text x="1947.3" y="1267.47" font-size="53.41" textLength="56.22" lengthAdjust="spacingAndGlyphs">80</text>
<line x1="2014" y1="1155.5" x2="2032" y2="1155.5" stroke="#000" stroke-width="6.4" stroke-linecap="butt"/>
<text x="1919.45" y="1173.89" font-size="53.41" textLength="84.06" lengthAdjust="spacingAndGlyphs">100</text>
<line x1="2014" y1="1061.92" x2="2032" y2="1061.92" stroke="#000" stroke-width="6.4" stroke-linecap="butt"/>
<text x="1919.45" y="1080.31" font-size="53.41" textLength="84.06" lengthAdjust="spacingAndGlyphs">120</text>
<line x1="2014" y1="1623.4" x2="2415.8" y2="1623.4" stroke="#000" stroke-width="5.6" stroke-linecap="butt"/>
<line x1="2106.7" y1="1623" x2="2106.7" y2="1641.6" stroke="#000" stroke-width="6" stroke-linecap="butt"/>
<line x1="2184.3" y1="1623" x2="2184.3" y2="1641.6" stroke="#000" stroke-width="6" stroke-linecap="butt"/>
<line x1="2264.2" y1="1623" x2="2264.2" y2="1641.6" stroke="#000" stroke-width="6" stroke-linecap="butt"/>
<line x1="2341.8" y1="1623" x2="2341.8" y2="1641.6" stroke="#000" stroke-width="6" stroke-linecap="butt"/>
<text transform="translate(2120.7,1688.3) rotate(-45)" x="-34.46" y="0" font-size="52.21" textLength="35.82" lengthAdjust="spacingAndGlyphs">C</text>
<text transform="translate(2198.3,1688.3) rotate(-45)" x="-152.4" y="0" font-size="52.21" textLength="154.43" lengthAdjust="spacingAndGlyphs">1:1000</text>
<text transform="translate(2278.2,1688.3) rotate(-45)" x="-124.81" y="0" font-size="52.21" textLength="126.85" lengthAdjust="spacingAndGlyphs">1:500</text>
<text transform="translate(2355.8,1688.3) rotate(-45)" x="-124.81" y="0" font-size="52.21" textLength="126.85" lengthAdjust="spacingAndGlyphs">1:100</text>
<text x="2118.21" y="956.55" font-size="64.11" textLength="204.82" lengthAdjust="spacingAndGlyphs">SKOV3</text>
<text x="2065.66" y="1891.75" font-size="51.71" textLength="310.74" lengthAdjust="spacingAndGlyphs">OOS dilution</text>
<text transform="translate(89.65,1630.15) rotate(-90)" x="-2.15" y="0" font-size="52.71" textLength="590.76" lengthAdjust="spacingAndGlyphs">Cell number (% control)</text>
<line x1="225.3" y1="2209.5" x2="225.3" y2="2894.7" stroke="#000" stroke-width="6" stroke-linecap="butt"/>
<line x1="207.2" y1="2743.24" x2="225.3" y2="2743.24" stroke="#000" stroke-width="6" stroke-linecap="butt"/>
<line x1="207.2" y1="2610.18" x2="225.3" y2="2610.18" stroke="#000" stroke-width="6" stroke-linecap="butt"/>
<line x1="207.2" y1="2477.12" x2="225.3" y2="2477.12" stroke="#000" stroke-width="6" stroke-linecap="butt"/>
<line x1="207.2" y1="2344.06" x2="225.3" y2="2344.06" stroke="#000" stroke-width="6" stroke-linecap="butt"/>
<line x1="207.2" y1="2211" x2="225.3" y2="2211" stroke="#000" stroke-width="6" stroke-linecap="butt"/>
<text x="166.65" y="2895.04" font-size="54.41" textLength="30.66" lengthAdjust="spacingAndGlyphs">0</text>
<text x="136.6" y="2761.98" font-size="54.41" textLength="60.69" lengthAdjust="spacingAndGlyphs">20</text>
<text x="136.61" y="2628.92" font-size="54.41" textLength="60.68" lengthAdjust="spacingAndGlyphs">40</text>
<text x="136.6" y="2495.86" font-size="54.41" textLength="60.69" lengthAdjust="spacingAndGlyphs">60</text>
<text x="136.6" y="2362.8" font-size="54.41" textLength="60.68" lengthAdjust="spacingAndGlyphs">80</text>
<text x="106.52" y="2229.74" font-size="54.41" textLength="90.76" lengthAdjust="spacingAndGlyphs">100</text>
<line x1="207.2" y1="2876.3" x2="246.1" y2="2876.3" stroke="#000" stroke-width="6" stroke-linecap="butt"/>
<line x1="257.5" y1="2896.9" x2="266.5" y2="2865.3" stroke="#000" stroke-width="3.6" stroke-linecap="butt"/>
<line x1="269.5" y1="2896.9" x2="281" y2="2865.3" stroke="#000" stroke-width="3.6" stroke-linecap="butt"/>
<line x1="286.6" y1="2876.3" x2="892.6" y2="2876.3" stroke="#000" stroke-width="5.8" stroke-linecap="butt"/>
<line x1="304.1" y1="2876.3" x2="304.1" y2="2888.8" stroke="#000" stroke-width="5.2" stroke-linecap="butt"/>
<line x1="324.86" y1="2876.3" x2="324.86" y2="2888.8" stroke="#000" stroke-width="5.2" stroke-linecap="butt"/>
<line x1="340.97" y1="2876.3" x2="340.97" y2="2888.8" stroke="#000" stroke-width="5.2" stroke-linecap="butt"/>
<line x1="354.13" y1="2876.3" x2="354.13" y2="2888.8" stroke="#000" stroke-width="5.2" stroke-linecap="butt"/>
<line x1="365.26" y1="2876.3" x2="365.26" y2="2888.8" stroke="#000" stroke-width="5.2" stroke-linecap="butt"/>
<line x1="374.89" y1="2876.3" x2="374.89" y2="2888.8" stroke="#000" stroke-width="5.2" stroke-linecap="butt"/>
<line x1="383.4" y1="2876.3" x2="383.4" y2="2888.8" stroke="#000" stroke-width="5.2" stroke-linecap="butt"/>
<line x1="441.03" y1="2876.3" x2="441.03" y2="2888.8" stroke="#000" stroke-width="5.2" stroke-linecap="butt"/>
<line x1="470.3" y1="2876.3" x2="470.3" y2="2888.8" stroke="#000" stroke-width="5.2" stroke-linecap="butt"/>
<line x1="491.06" y1="2876.3" x2="491.06" y2="2888.8" stroke="#000" stroke-width="5.2" stroke-linecap="butt"/>
<line x1="507.17" y1="2876.3" x2="507.17" y2="2888.8" stroke="#000" stroke-width="5.2" stroke-linecap="butt"/>
<line x1="520.33" y1="2876.3" x2="520.33" y2="2888.8" stroke="#000" stroke-width="5.2" stroke-linecap="butt"/>
<line x1="531.46" y1="2876.3" x2="531.46" y2="2888.8" stroke="#000" stroke-width="5.2" stroke-linecap="butt"/>
<line x1="541.09" y1="2876.3" x2="541.09" y2="2888.8" stroke="#000" stroke-width="5.2" stroke-linecap="butt"/>
<line x1="549.6" y1="2876.3" x2="549.6" y2="2888.8" stroke="#000" stroke-width="5.2" stroke-linecap="butt"/>
<line x1="607.23" y1="2876.3" x2="607.23" y2="2888.8" stroke="#000" stroke-width="5.2" stroke-linecap="butt"/>
<line x1="636.5" y1="2876.3" x2="636.5" y2="2888.8" stroke="#000" stroke-width="5.2" stroke-linecap="butt"/>
<line x1="657.26" y1="2876.3" x2="657.26" y2="2888.8" stroke="#000" stroke-width="5.2" stroke-linecap="butt"/>
<line x1="673.37" y1="2876.3" x2="673.37" y2="2888.8" stroke="#000" stroke-width="5.2" stroke-linecap="butt"/>
<line x1="686.53" y1="2876.3" x2="686.53" y2="2888.8" stroke="#000" stroke-width="5.2" stroke-linecap="butt"/>
<line x1="697.66" y1="2876.3" x2="697.66" y2="2888.8" stroke="#000" stroke-width="5.2" stroke-linecap="butt"/>
<line x1="707.29" y1="2876.3" x2="707.29" y2="2888.8" stroke="#000" stroke-width="5.2" stroke-linecap="butt"/>
<line x1="715.8" y1="2876.3" x2="715.8" y2="2888.8" stroke="#000" stroke-width="5.2" stroke-linecap="butt"/>
<line x1="773.43" y1="2876.3" x2="773.43" y2="2888.8" stroke="#000" stroke-width="5.2" stroke-linecap="butt"/>
<line x1="802.7" y1="2876.3" x2="802.7" y2="2888.8" stroke="#000" stroke-width="5.2" stroke-linecap="butt"/>
<line x1="823.46" y1="2876.3" x2="823.46" y2="2888.8" stroke="#000" stroke-width="5.2" stroke-linecap="butt"/>
<line x1="839.57" y1="2876.3" x2="839.57" y2="2888.8" stroke="#000" stroke-width="5.2" stroke-linecap="butt"/>
<line x1="852.73" y1="2876.3" x2="852.73" y2="2888.8" stroke="#000" stroke-width="5.2" stroke-linecap="butt"/>
<line x1="863.86" y1="2876.3" x2="863.86" y2="2888.8" stroke="#000" stroke-width="5.2" stroke-linecap="butt"/>
<line x1="873.49" y1="2876.3" x2="873.49" y2="2888.8" stroke="#000" stroke-width="5.2" stroke-linecap="butt"/>
<line x1="882" y1="2876.3" x2="882" y2="2888.8" stroke="#000" stroke-width="5.2" stroke-linecap="butt"/>
<line x1="391" y1="2876.3" x2="391" y2="2894.8" stroke="#000" stroke-width="6" stroke-linecap="butt"/>
<line x1="557.2" y1="2876.3" x2="557.2" y2="2894.8" stroke="#000" stroke-width="6" stroke-linecap="butt"/>
<line x1="723.4" y1="2876.3" x2="723.4" y2="2894.8" stroke="#000" stroke-width="6" stroke-linecap="butt"/>
<line x1="889.6" y1="2876.3" x2="889.6" y2="2894.8" stroke="#000" stroke-width="6" stroke-linecap="butt"/>
<text x="208.97" y="2964.75" font-size="60.71" textLength="33.44" lengthAdjust="spacingAndGlyphs">0</text>
<text x="348.31" y="2954.95" font-size="56.71" textLength="60.67" lengthAdjust="spacingAndGlyphs">10</text>
<text x="412.61" y="2935.45" font-size="34.31" textLength="20.68" lengthAdjust="spacingAndGlyphs">5</text>
<text x="514.51" y="2954.95" font-size="56.71" textLength="60.67" lengthAdjust="spacingAndGlyphs">10</text>
<text x="578.55" y="2935.45" font-size="34.31" textLength="21.28" lengthAdjust="spacingAndGlyphs">6</text>
<text x="680.71" y="2954.95" font-size="56.71" textLength="60.67" lengthAdjust="spacingAndGlyphs">10</text>
<text x="744.46" y="2935.45" font-size="34.31" textLength="21.93" lengthAdjust="spacingAndGlyphs">7</text>
<text x="846.91" y="2954.95" font-size="56.71" textLength="60.67" lengthAdjust="spacingAndGlyphs">10</text>
<text x="911.16" y="2935.45" font-size="34.31" textLength="20.84" lengthAdjust="spacingAndGlyphs">8</text>
<circle cx="249.9" cy="2398.7" r="20.6" fill="#ffa234"/>
<circle cx="335.2" cy="2367.4" r="20.6" fill="#8f8fff"/>
<circle cx="595.7" cy="2646" r="20.6" fill="#009a97"/>
<circle cx="747.9" cy="2730.2" r="20.6" fill="#ff0000"/>
<circle cx="908" cy="2170" r="20.9" fill="#ff0000"/>
<text x="981.8" y="2185.25" font-size="52.21" textLength="135.74" lengthAdjust="spacingAndGlyphs">A2780</text>
<circle cx="908" cy="2259.6" r="20.9" fill="#009a97"/>
<text x="981.16" y="2274.85" font-size="52.21" textLength="180.42" lengthAdjust="spacingAndGlyphs">IGROV1</text>
<circle cx="908" cy="2349.7" r="20.9" fill="#8f8fff"/>
<text x="981.69" y="2364.95" font-size="52.21" textLength="199.43" lengthAdjust="spacingAndGlyphs">OVCAR8</text>
<circle cx="908" cy="2439" r="20.9" fill="#ffa234"/>
<text x="982.24" y="2454.25" font-size="52.21" textLength="165.98" lengthAdjust="spacingAndGlyphs">SKOV3</text>
<text x="385.43" y="3051.75" font-size="55.71" textLength="338" lengthAdjust="spacingAndGlyphs">pH2AX levels</text>
<text x="292.98" y="3114.25" font-size="54.71" textLength="540.84" lengthAdjust="spacingAndGlyphs">(band intensity, a.u.)</text>
<text transform="translate(79.45,2851.25) rotate(-90)" x="-2.27" y="0" font-size="55.21" textLength="623.52" lengthAdjust="spacingAndGlyphs">Cell number (% control)</text>
<line x1="1472.7" y1="2198.9" x2="1472.7" y2="2898" stroke="#000" stroke-width="6" stroke-linecap="butt"/>
<line x1="1453" y1="2742.64" x2="1472.7" y2="2742.64" stroke="#000" stroke-width="6" stroke-linecap="butt"/>
<line x1="1453" y1="2607.08" x2="1472.7" y2="2607.08" stroke="#000" stroke-width="6" stroke-linecap="butt"/>
<line x1="1453" y1="2471.52" x2="1472.7" y2="2471.52" stroke="#000" stroke-width="6" stroke-linecap="butt"/>
<line x1="1453" y1="2335.96" x2="1472.7" y2="2335.96" stroke="#000" stroke-width="6" stroke-linecap="butt"/>
<line x1="1453" y1="2200.4" x2="1472.7" y2="2200.4" stroke="#000" stroke-width="6" stroke-linecap="butt"/>
<text x="1412.02" y="2897.56" font-size="56.21" textLength="31.88" lengthAdjust="spacingAndGlyphs">0</text>
<text x="1380.74" y="2762" font-size="56.21" textLength="63.13" lengthAdjust="spacingAndGlyphs">20</text>
<text x="1380.75" y="2626.44" font-size="56.21" textLength="63.12" lengthAdjust="spacingAndGlyphs">40</text>
<text x="1380.74" y="2490.88" font-size="56.21" textLength="63.13" lengthAdjust="spacingAndGlyphs">60</text>
<text x="1380.75" y="2355.32" font-size="56.21" textLength="63.13" lengthAdjust="spacingAndGlyphs">80</text>
<text x="1349.44" y="2219.76" font-size="56.21" textLength="94.43" lengthAdjust="spacingAndGlyphs">100</text>
<line x1="1453" y1="2878.2" x2="1494.3" y2="2878.2" stroke="#000" stroke-width="6" stroke-linecap="butt"/>
<line x1="1507" y1="2898.8" x2="1516.5" y2="2867.2" stroke="#000" stroke-width="3.6" stroke-linecap="butt"/>
<line x1="1520" y1="2898.8" x2="1531.6" y2="2867.2" stroke="#000" stroke-width="3.6" stroke-linecap="butt"/>
<line x1="1537.8" y1="2878.2" x2="2153.4" y2="2878.2" stroke="#000" stroke-width="5.8" stroke-linecap="butt"/>
<line x1="1552.22" y1="2878.2" x2="1552.22" y2="2890.7" stroke="#000" stroke-width="5.2" stroke-linecap="butt"/>
<line x1="1573.43" y1="2878.2" x2="1573.43" y2="2890.7" stroke="#000" stroke-width="5.2" stroke-linecap="butt"/>
<line x1="1589.89" y1="2878.2" x2="1589.89" y2="2890.7" stroke="#000" stroke-width="5.2" stroke-linecap="butt"/>
<line x1="1603.33" y1="2878.2" x2="1603.33" y2="2890.7" stroke="#000" stroke-width="5.2" stroke-linecap="butt"/>
<line x1="1614.7" y1="2878.2" x2="1614.7" y2="2890.7" stroke="#000" stroke-width="5.2" stroke-linecap="butt"/>
<line x1="1624.54" y1="2878.2" x2="1624.54" y2="2890.7" stroke="#000" stroke-width="5.2" stroke-linecap="butt"/>
<line x1="1633.23" y1="2878.2" x2="1633.23" y2="2890.7" stroke="#000" stroke-width="5.2" stroke-linecap="butt"/>
<line x1="1692.11" y1="2878.2" x2="1692.11" y2="2890.7" stroke="#000" stroke-width="5.2" stroke-linecap="butt"/>
<line x1="1722.02" y1="2878.2" x2="1722.02" y2="2890.7" stroke="#000" stroke-width="5.2" stroke-linecap="butt"/>
<line x1="1743.23" y1="2878.2" x2="1743.23" y2="2890.7" stroke="#000" stroke-width="5.2" stroke-linecap="butt"/>
<line x1="1759.69" y1="2878.2" x2="1759.69" y2="2890.7" stroke="#000" stroke-width="5.2" stroke-linecap="butt"/>
<line x1="1773.13" y1="2878.2" x2="1773.13" y2="2890.7" stroke="#000" stroke-width="5.2" stroke-linecap="butt"/>
<line x1="1784.5" y1="2878.2" x2="1784.5" y2="2890.7" stroke="#000" stroke-width="5.2" stroke-linecap="butt"/>
<line x1="1794.34" y1="2878.2" x2="1794.34" y2="2890.7" stroke="#000" stroke-width="5.2" stroke-linecap="butt"/>
<line x1="1803.03" y1="2878.2" x2="1803.03" y2="2890.7" stroke="#000" stroke-width="5.2" stroke-linecap="butt"/>
<line x1="1861.91" y1="2878.2" x2="1861.91" y2="2890.7" stroke="#000" stroke-width="5.2" stroke-linecap="butt"/>
<line x1="1891.82" y1="2878.2" x2="1891.82" y2="2890.7" stroke="#000" stroke-width="5.2" stroke-linecap="butt"/>
<line x1="1913.03" y1="2878.2" x2="1913.03" y2="2890.7" stroke="#000" stroke-width="5.2" stroke-linecap="butt"/>
<line x1="1929.49" y1="2878.2" x2="1929.49" y2="2890.7" stroke="#000" stroke-width="5.2" stroke-linecap="butt"/>
<line x1="1942.93" y1="2878.2" x2="1942.93" y2="2890.7" stroke="#000" stroke-width="5.2" stroke-linecap="butt"/>
<line x1="1954.3" y1="2878.2" x2="1954.3" y2="2890.7" stroke="#000" stroke-width="5.2" stroke-linecap="butt"/>
<line x1="1964.14" y1="2878.2" x2="1964.14" y2="2890.7" stroke="#000" stroke-width="5.2" stroke-linecap="butt"/>
<line x1="1972.83" y1="2878.2" x2="1972.83" y2="2890.7" stroke="#000" stroke-width="5.2" stroke-linecap="butt"/>
<line x1="2031.71" y1="2878.2" x2="2031.71" y2="2890.7" stroke="#000" stroke-width="5.2" stroke-linecap="butt"/>
<line x1="2061.62" y1="2878.2" x2="2061.62" y2="2890.7" stroke="#000" stroke-width="5.2" stroke-linecap="butt"/>
<line x1="2082.83" y1="2878.2" x2="2082.83" y2="2890.7" stroke="#000" stroke-width="5.2" stroke-linecap="butt"/>
<line x1="2099.29" y1="2878.2" x2="2099.29" y2="2890.7" stroke="#000" stroke-width="5.2" stroke-linecap="butt"/>
<line x1="2112.73" y1="2878.2" x2="2112.73" y2="2890.7" stroke="#000" stroke-width="5.2" stroke-linecap="butt"/>
<line x1="2124.1" y1="2878.2" x2="2124.1" y2="2890.7" stroke="#000" stroke-width="5.2" stroke-linecap="butt"/>
<line x1="2133.94" y1="2878.2" x2="2133.94" y2="2890.7" stroke="#000" stroke-width="5.2" stroke-linecap="butt"/>
<line x1="2142.63" y1="2878.2" x2="2142.63" y2="2890.7" stroke="#000" stroke-width="5.2" stroke-linecap="butt"/>
<line x1="1641" y1="2878.2" x2="1641" y2="2896.7" stroke="#000" stroke-width="6" stroke-linecap="butt"/>
<line x1="1810.8" y1="2878.2" x2="1810.8" y2="2896.7" stroke="#000" stroke-width="6" stroke-linecap="butt"/>
<line x1="1980.6" y1="2878.2" x2="1980.6" y2="2896.7" stroke="#000" stroke-width="6" stroke-linecap="butt"/>
<line x1="2150.4" y1="2878.2" x2="2150.4" y2="2896.7" stroke="#000" stroke-width="6" stroke-linecap="butt"/>
<text x="1460.68" y="2957.85" font-size="60.71" textLength="31.92" lengthAdjust="spacingAndGlyphs">0</text>
<text x="1598.31" y="2957.95" font-size="56.71" textLength="60.67" lengthAdjust="spacingAndGlyphs">10</text>
<text x="1662.61" y="2938.45" font-size="34.31" textLength="20.68" lengthAdjust="spacingAndGlyphs">5</text>
<text x="1768.11" y="2957.95" font-size="56.71" textLength="60.67" lengthAdjust="spacingAndGlyphs">10</text>
<text x="1832.15" y="2938.45" font-size="34.31" textLength="21.28" lengthAdjust="spacingAndGlyphs">6</text>
<text x="1937.91" y="2957.95" font-size="56.71" textLength="60.67" lengthAdjust="spacingAndGlyphs">10</text>
<text x="2001.66" y="2938.45" font-size="34.31" textLength="21.93" lengthAdjust="spacingAndGlyphs">7</text>
<text x="2107.71" y="2957.95" font-size="56.71" textLength="60.67" lengthAdjust="spacingAndGlyphs">10</text>
<text x="2171.96" y="2938.45" font-size="34.31" textLength="20.84" lengthAdjust="spacingAndGlyphs">8</text>
<circle cx="1578.8" cy="2391.3" r="21" fill="#ffa234"/>
<circle cx="1641" cy="2357.8" r="21" fill="#8f8fff"/>
<circle cx="1786" cy="2643" r="21" fill="#009a97"/>
<circle cx="1916.4" cy="2729.3" r="21" fill="#ff0000"/>
<circle cx="2143.3" cy="2214.6" r="21.3" fill="#ff0000"/>
<text x="2218.28" y="2231.05" font-size="54.41" textLength="139.01" lengthAdjust="spacingAndGlyphs">A2780</text>
<circle cx="2143.3" cy="2306.3" r="21.3" fill="#009a97"/>
<text x="2217.26" y="2322.75" font-size="54.41" textLength="185.96" lengthAdjust="spacingAndGlyphs">IGROV1</text>
<circle cx="2143.3" cy="2397.6" r="21.3" fill="#8f8fff"/>
<text x="2218.04" y="2414.05" font-size="54.41" textLength="203.91" lengthAdjust="spacingAndGlyphs">OVCAR8</text>
<circle cx="2143.3" cy="2489.8" r="21.3" fill="#ffa234"/>
<text x="2218.59" y="2506.25" font-size="54.41" textLength="171.48" lengthAdjust="spacingAndGlyphs">SKOV3</text>
<text x="1633.81" y="3058.55" font-size="55.71" textLength="353.01" lengthAdjust="spacingAndGlyphs">pCHK2 levels</text>
<text x="1542.42" y="3122.85" font-size="54.71" textLength="552.56" lengthAdjust="spacingAndGlyphs">(band intensity, a.u.)</text>
<text transform="translate(1322.15,2853.25) rotate(-90)" x="-2.32" y="0" font-size="58.21" textLength="636.93" lengthAdjust="spacingAndGlyphs">Cell number (% control)</text>
</svg>
</body></html>
